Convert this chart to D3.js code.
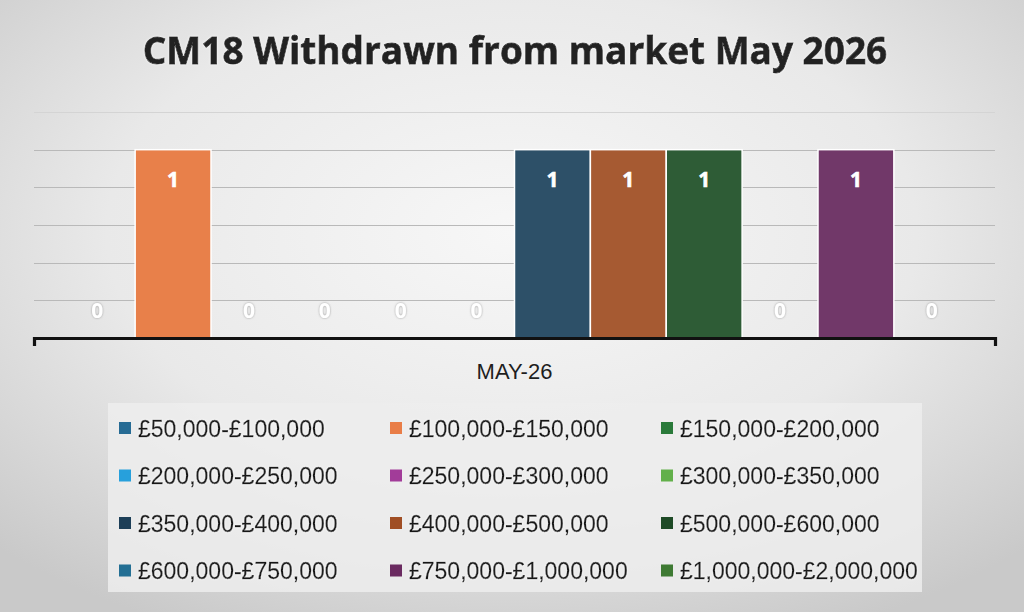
<!DOCTYPE html>
<html>
<head>
<meta charset="utf-8">
<script src="https://cdn.jsdelivr.net/npm/d3@7"></script>
<style>
  html, body { margin: 0; padding: 0; background: #dcdcdc; }
  svg { display: block; }
</style>
</head>
<body>
<div id="chart"></div>
<script>
// Data
const categories = ["MAY-26"];
const seriesNames = [
  "£50,000-£100,000", "£100,000-£150,000", "£150,000-£200,000",
  "£200,000-£250,000", "£250,000-£300,000", "£300,000-£350,000",
  "£350,000-£400,000", "£400,000-£500,000", "£500,000-£600,000",
  "£600,000-£750,000", "£750,000-£1,000,000", "£1,000,000-£2,000,000"
];
const seriesValues = [0, 1, 0, 0, 0, 0, 1, 1, 1, 0, 1, 0];
const yTicks = [0.2, 0.4, 0.6, 0.8, 1.0, 1.2];

// bar colours (as drawn) and legend swatch colours
const barColors = [
  "#266b94", "#e8804a", "#2a7a3a", "#27a0dc", "#a23c99", "#62b04a",
  "#2d5068", "#a65a32", "#2e5c36", "#236f94", "#713869", "#3e7a33"
];
const swatchColors = [
  "#266b94", "#e97d47", "#2a7a3a", "#27a0dc", "#a23c99", "#62b04a",
  "#1d3f58", "#a04e24", "#1e4a26", "#236f94", "#6a2a60", "#3e7a33"
];

// Set dimensions
const width = 1024,
      height = 612;

const plot = { left: 34, right: 995, top: 112, bottom: 338 };

const svg = d3.select("#chart")
  .append("svg")
  .attr("width", width)
  .attr("height", height);

// Background gradient
const defs = svg.append("defs");
const grad = defs.append("radialGradient")
  .attr("id", "bg")
  .attr("cx", "50%").attr("cy", "38%").attr("r", "72%");
grad.append("stop").attr("offset", "0%").attr("stop-color", "#f7f7f7");
grad.append("stop").attr("offset", "55%").attr("stop-color", "#e9e9e9");
grad.append("stop").attr("offset", "100%").attr("stop-color", "#c9c9c9");

const glow = defs.append("filter").attr("id", "glow")
  .attr("x", "-20%").attr("y", "-20%").attr("width", "140%").attr("height", "140%");
glow.append("feDropShadow")
  .attr("dx", 0).attr("dy", 0).attr("stdDeviation", 1.2)
  .attr("flood-color", "#ffffff").attr("flood-opacity", 0.9);

const zeroGlow = defs.append("filter").attr("id", "zeroGlow")
  .attr("x", "-30%").attr("y", "-30%").attr("width", "160%").attr("height", "160%");
zeroGlow.append("feDropShadow")
  .attr("dx", 0).attr("dy", 0).attr("stdDeviation", 1)
  .attr("flood-color", "#8a8a8a").attr("flood-opacity", 0.8);

svg.append("rect")
  .attr("width", width)
  .attr("height", height)
  .attr("fill", "url(#bg)");

// Title
svg.append("text")
  .attr("x", 515)
  .attr("y", 64)
  .attr("text-anchor", "middle")
  .attr("filter", "url(#glow)")
  .style("font-family", "'Open Sans', sans-serif")
  .style("font-weight", 700)
  .style("font-size", "37px")
  .style("fill", "#232323")
  .style("stroke", "#232323")
  .style("stroke-width", 0.8)
  .text("CM18 Withdrawn from market May 2026");

// Scales
const x0 = d3.scaleBand()
  .domain(categories)
  .range([plot.left, plot.right])
  .padding(0.027);

const x1 = d3.scaleBand()
  .domain(seriesNames)
  .range([0, x0.bandwidth()]);

const y = d3.scaleLinear()
  .domain([0, 1.2])
  .range([plot.bottom, plot.top]);

// Gridlines
svg.append("g")
  .selectAll("line")
  .data(yTicks)
  .enter()
  .append("line")
  .attr("x1", plot.left)
  .attr("x2", plot.right)
  .attr("y1", d => Math.round(y(d)) + 0.5)
  .attr("y2", d => Math.round(y(d)) + 0.5)
  .attr("stroke", (d, i) => i === yTicks.length - 1 ? "#d4d4d4" : "#b9b9b9")
  .attr("stroke-width", 1);

// Bars
const barData = seriesNames.map((name, i) => ({ name, value: seriesValues[i], i }));

const group = svg.append("g")
  .attr("transform", `translate(${x0(categories[0])},0)`);

group.selectAll("rect.bar")
  .data(barData)
  .enter()
  .append("rect")
  .attr("class", "bar")
  .attr("x", d => x1(d.name))
  .attr("y", d => y(d.value))
  .attr("width", x1.bandwidth())
  .attr("height", d => y(0) - y(d.value))
  .attr("fill", d => barColors[d.i])
  .attr("stroke", "#ffffff")
  .attr("stroke-width", 1.5);

// Data labels
group.selectAll("text.lbl")
  .data(barData)
  .enter()
  .append("text")
  .attr("class", "lbl")
  .attr("x", d => x1(d.name) + x1.bandwidth() / 2)
  .attr("y", d => d.value > 0 ? y(d.value) + 37 : y(0) - 20)
  .attr("text-anchor", "middle")
  .attr("filter", d => d.value > 0 ? null : "url(#zeroGlow)")
  .style("font-family", "'Open Sans', sans-serif")
  .style("font-weight", 700)
  .style("font-size", "21px")
  .style("fill", "#ffffff")
  .style("stroke", "#ffffff")
  .style("stroke-width", d => d.value > 0 ? 0.6 : 0)
  .text(d => d.value);

// X axis
const xAxis = svg.append("g")
  .attr("transform", `translate(0,${plot.bottom})`)
  .call(d3.axisBottom(x0).tickSizeInner(0).tickSizeOuter(8).tickPadding(25));

xAxis.select(".domain")
  .attr("stroke", "#111111")
  .attr("stroke-width", 3.2)
  .attr("fill", "none");

xAxis.selectAll("text")
  .style("font-family", "'Liberation Sans', Arial, sans-serif")
  .style("font-size", "22px")
  .style("fill", "#1e1e1e");

// Legend
const legendBox = { x: 108, y: 403, w: 814, h: 189 };

svg.append("rect")
  .attr("x", legendBox.x)
  .attr("y", legendBox.y)
  .attr("width", legendBox.w)
  .attr("height", legendBox.h)
  .attr("fill", "#ededed")
  .attr("fill-opacity", 0.85);

const legendItems = svg.append("g")
  .selectAll(".legend-item")
  .data(barData)
  .enter()
  .append("g")
  .attr("class", "legend-item")
  .attr("transform", d => `translate(${119 + (d.i % 3) * 271}, ${428 + Math.floor(d.i / 3) * 47.5})`);

legendItems.append("rect")
  .attr("x", 0)
  .attr("y", -6)
  .attr("width", 12)
  .attr("height", 12)
  .attr("fill", d => swatchColors[d.i]);

legendItems.append("text")
  .attr("x", 19)
  .attr("y", 8.5)
  .attr("filter", "url(#glow)")
  .style("font-family", "'Liberation Sans', Arial, sans-serif")
  .style("font-size", "23px")
  .style("fill", "#1a1a1a")
  .style("stroke", "#1a1a1a")
  .style("stroke-width", 0.3)
  .text(d => d.name);
</script>
</body>
</html>
